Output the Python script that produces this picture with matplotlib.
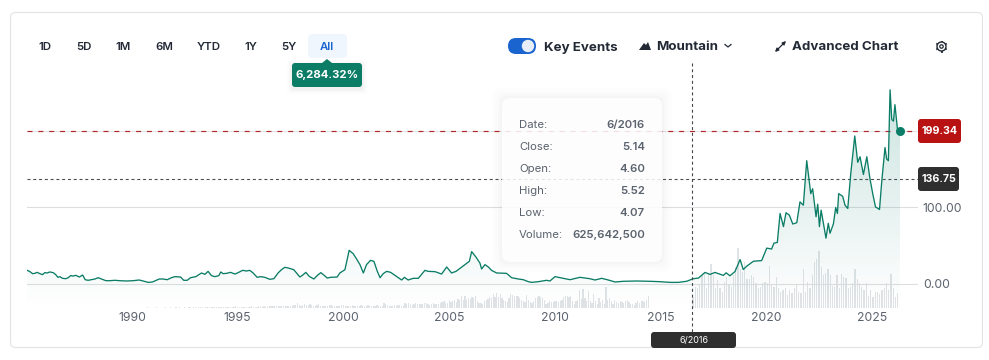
import matplotlib
matplotlib.use("Agg")
import matplotlib.pyplot as plt
import numpy as np
from matplotlib.patches import Circle, FancyBboxPatch, Polygon

plt.rcParams["font.family"] = ["Inter", "DejaVu Sans"]

# monthly-ish close
years = [
    1985.05, 1985.18, 1985.30, 1985.41, 1985.52, 1985.65, 1985.77, 1985.88, 1985.99, 1986.12,
    1986.28, 1986.40, 1986.50, 1986.59, 1986.72, 1986.87, 1986.99, 1987.10, 1987.22, 1987.35,
    1987.51, 1987.67, 1987.79, 1987.93, 1988.09, 1988.25, 1988.40, 1988.56, 1988.77, 1988.95,
    1989.19, 1989.43, 1989.74, 1990.06, 1990.34, 1990.53, 1990.77, 1990.97, 1991.29, 1991.48,
    1991.67, 1991.87, 1992.03, 1992.30, 1992.45, 1992.61, 1992.77, 1993.02, 1993.29, 1993.45,
    1993.60, 1993.76, 1993.92, 1994.11, 1994.20, 1994.31, 1994.47, 1994.66, 1994.87, 1995.02,
    1995.23, 1995.42, 1995.57, 1995.73, 1995.92, 1996.08, 1996.28, 1996.52, 1996.71, 1996.91,
    1997.07, 1997.23, 1997.39, 1997.65, 1997.78, 1997.94, 1998.10, 1998.22, 1998.38, 1998.60,
    1998.77, 1998.93, 1999.09, 1999.23, 1999.39, 1999.70, 1999.83, 2000.07, 2000.27, 2000.46,
    2000.62, 2000.78, 2000.94, 2001.09, 2001.28, 2001.44, 2001.60, 2001.73, 2001.88, 2002.04,
    2002.23, 2002.43, 2002.75, 2002.88, 2003.06, 2003.30, 2003.54, 2003.85, 2004.01, 2004.33,
    2004.64, 2004.88, 2005.11, 2005.32, 2005.74, 2005.95, 2006.06, 2006.26, 2006.45, 2006.53,
    2006.69, 2006.85, 2007.00, 2007.24, 2007.71, 2007.95, 2008.27, 2008.50, 2008.74, 2008.90,
    2009.21, 2009.60, 2009.76, 2010.00, 2010.39, 2010.71, 2011.18, 2011.65, 2011.89, 2012.21,
    2012.52, 2012.84, 2013.23, 2013.86, 2014.49, 2014.96, 2015.44, 2015.83, 2016.22, 2016.42,
    2016.54, 2016.78, 2017.09, 2017.33, 2017.56, 2017.96, 2018.09, 2018.27, 2018.51, 2018.75,
    2018.90, 2019.06, 2019.38, 2019.77, 2020.01, 2020.24, 2020.35, 2020.51, 2020.64, 2020.80,
    2020.92, 2021.08, 2021.24, 2021.43, 2021.58, 2021.74, 2021.90, 2022.09, 2022.18, 2022.34,
    2022.42, 2022.50, 2022.58, 2022.81, 2022.92, 2023.00, 2023.16, 2023.27, 2023.35, 2023.41,
    2023.60, 2023.71, 2023.84, 2023.98, 2024.17, 2024.31, 2024.42, 2024.58, 2024.74, 2024.89,
    2025.02, 2025.15, 2025.34, 2025.45, 2025.60, 2025.68, 2025.76, 2025.84, 2025.92, 2026.00,
    2026.07, 2026.19, 2026.31,
]
closes = [
    17.4, 15.7, 13.1, 13.5, 14.8, 13.1, 11.8, 14.4, 14.0, 15.3,
    14.4, 11.8, 8.3, 9.2, 7.0, 6.5, 7.8, 10.5, 10.0, 10.9,
    8.7, 11.3, 5.2, 4.4, 5.2, 6.1, 7.8, 6.1, 3.9, 3.9,
    4.4, 3.9, 3.5, 3.9, 4.8, 3.5, 1.7, 2.2, 6.1, 6.1,
    5.2, 7.8, 9.2, 8.7, 4.4, 4.4, 7.8, 9.2, 14.0, 12.2,
    16.1, 10.5, 9.2, 10.5, 15.3, 13.1, 13.5, 14.8, 12.6, 14.4,
    17.4, 16.6, 17.4, 14.0, 8.3, 9.2, 8.3, 5.7, 6.5, 14.0,
    18.3, 21.4, 20.5, 18.3, 14.0, 8.7, 11.8, 14.8, 9.6, 6.1,
    10.9, 14.4, 10.9, 7.4, 8.3, 8.7, 14.0, 18.3, 43.6, 39.2,
    32.3, 24.9, 14.0, 24.9, 30.5, 29.2, 16.1, 7.8, 13.1, 16.1,
    14.8, 10.9, 4.8, 8.3, 4.8, 7.0, 7.0, 17.4, 16.1, 15.7,
    12.6, 21.8, 14.0, 16.1, 24.9, 29.2, 41.9, 34.9, 27.0, 19.2,
    24.9, 21.8, 17.4, 14.0, 13.5, 7.8, 6.1, 5.2, 2.6, 1.7,
    2.6, 4.4, 3.5, 9.2, 7.0, 5.2, 8.3, 6.5, 4.8, 7.0,
    4.8, 2.2, 3.1, 3.5, 3.1, 2.6, 1.7, 1.7, 3.1, 5.14,
    6.5, 7.3, 14.7, 12.1, 14.7, 10.8, 14.2, 10.3, 15.9, 31.5,
    18.5, 22.8, 29.3, 30.2, 46.5, 45.3, 53.0, 53.9, 91.8, 74.6,
    92.7, 89.6, 78.0, 79.7, 106.9, 102.6, 160.8, 117.7, 124.1, 87.5,
    103.9, 74.6, 96.1, 59.5, 78.9, 65.9, 78.0, 99.6, 91.8, 117.7,
    114.2, 102.6, 98.3, 143.5, 193.1, 158.6, 165.9, 142.7, 165.9, 137.1,
    117.7, 100.4, 97.0, 134.9, 178.0, 162.9, 160.8, 253.4, 214.6, 212.5,
    234.0, 201.7, 199.34,
]

# volume in millions, one bar per month up to mid 2016
volume_old = [10, 8, 12, 10, 8, 10] * 1 + [8, 10, 12, 8, 10, 8, 12, 10] * 7 + [
    20, 25, 20, 30, 20, 25, 25, 20, 30, 25, 20, 25,
    25, 30, 20, 25, 30, 25, 20, 30, 25, 30, 25, 20,
    30, 25, 35, 30, 25, 30, 35, 25, 30, 35, 30, 25,
    30, 35, 30, 40, 30, 35, 30, 40, 35, 30, 40, 35,
    50, 60, 70, 50, 60, 80, 60, 70, 60, 50, 70, 60,
    70, 60, 80, 70, 60, 70, 90, 80, 60, 80, 70, 90,
    90, 100, 80, 110, 90, 80, 120, 100, 90, 130, 110, 90,
    100, 90, 140, 170, 240, 140, 120, 150, 190, 140, 170, 200,
    150, 130, 110, 170, 200, 120, 110, 130, 100, 120, 170, 160,
    120, 110, 100, 90, 130, 170, 150, 100, 90, 130, 120, 140,
    100, 80, 120, 100, 150, 90, 80, 120, 140, 90, 110, 100,
    90, 150, 130, 110, 100, 240, 200, 150, 90, 110, 130, 160,
    130, 170, 160, 130, 120, 250, 220, 240, 200, 180, 210, 260,
    230, 200, 210, 190, 240, 280, 220, 180, 200, 270, 230, 190,
    200, 270, 300, 340, 250, 240, 410, 300, 360, 420, 330, 450,
    410, 600, 420, 650,
    425, 510, 476, 561, 510, 646, 340, 255, 255, 221, 340, 425, 476, 561, 510, 714,
    561, 765, 595, 731, 510, 425, 340, 306, 510, 714, 680, 646, 629, 612, 510, 425,
    374, 306, 680, 425, 306, 255, 374, 510, 561, 612, 578, 510, 425, 204, 255, 340,
    306, 289, 340, 357, 306, 340, 408, 561, 646, 612, 561, 646, 340, 221, 340, 425,
    935, 476, 986, 510, 374, 884, 340, 272, 714, 340, 221, 510, 289, 425, 204, 1071,
    425, 510, 340, 204, 425, 306, 255, 340, 306, 255, 374, 425, 289, 221, 204, 170,
    238, 340, 255, 374, 340, 306, 425, 626,
]
volume_recent = [
    595, 1105, 1020, 1190, 1700, 1870, 1020, 1785, 2295, 1700, 1020, 1445, 1020, 850, 1360, 1615,
    1190, 1105, 1700, 2125, 3145, 2040, 1870, 2380, 1530, 1530, 1700, 1615, 1275, 1020, 1105, 1275,
    1360, 1275, 2210, 1190, 1105, 1615, 1020, 850, 935, 1020, 680, 935, 765, 1020, 1190,
    850, 765, 2040, 850, 1360, 1020, 1700, 2380, 2550, 2975, 2125, 1700, 1836, 2006, 1700, 1156,
    1105, 1700, 1020, 1785, 1615, 1564, 1020, 1105, 1326, 2006, 1530, 1275, 1105, 935, 1275, 646,
    935, 595, 816, 816, 714, 935, 1054, 1326, 935, 1785, 1054, 595, 765,
]

year_ticks = [1990, 1995, 2000, 2005, 2010, 2015, 2020, 2025]
price_ticks = [0, 100]
price_tick_labels = ["0.00", "100.00"]
last_close = 199.34
prev_close = 136.75
hover_year = 2016.42
range_buttons = ["1D", "5D", "1M", "6M", "YTD", "1Y", "5Y", "All"]
tooltip_rows = [
    ("Date:", "6/2016"),
    ("Close:", "5.14"),
    ("Open:", "4.60"),
    ("High:", "5.52"),
    ("Low:", "4.07"),
    ("Volume:", "625,642,500"),
]

W, H = 989, 360
GREEN = "#0b7d66"
INK = "#232a36"
GREY = "#5b636e"

fig = plt.figure(figsize=(W / 100, H / 100), dpi=100, facecolor="white")


def px_axes(left, top, right, bottom):
    return [left / W, 1 - bottom / H, (right - left) / W, (bottom - top) / H]


ax_vol = fig.add_axes(px_axes(27, 60, 918, 308), zorder=1)
ax = fig.add_axes(px_axes(27, 60, 918, 308), zorder=2)
ax.patch.set_visible(False)
ui = fig.add_axes([0, 0, 1, 1], zorder=3)
ui.set_xlim(0, W)
ui.set_ylim(H, 0)
ui.axis("off")

ax.set_xlim(1985.04, 2027.16)
ax.set_ylim(-31.8, 292.4)
ax_vol.set_xlim(1985.04, 2027.16)
ax_vol.set_ylim(0, 12900)
ax_vol.axis("off")

# volume
x_old = 1985.33 + np.arange(len(volume_old)) / 12
x_recent = np.linspace(2016.52, 2026.2, len(volume_recent))
ax_vol.bar(x_old, volume_old, width=0.06, color="#dfe3e5", linewidth=0)
ax_vol.bar(x_recent, volume_recent, width=0.06, color="#dfe3e5", linewidth=0)

# gradient under the line
grad = np.zeros((256, 1, 4))
grad[..., :3] = matplotlib.colors.to_rgb(GREEN)
grad[..., 3] = np.linspace(0.24, 0.0, 256)[:, None]
im = ax.imshow(grad, extent=(1985.04, 2027.16, -31.8, 292.4), aspect="auto", zorder=1, origin="upper")
poly = ax.fill_between(years, closes, -31.8, color="none")
im.set_clip_path(poly.get_paths()[0], transform=ax.transData)
ax.set_xlim(1985.04, 2027.16)
ax.set_ylim(-31.8, 292.4)

ax.plot(years, closes, color=GREEN, lw=0.95, zorder=3, solid_joinstyle="round")
ax.plot(years[-1], closes[-1], "o", color=GREEN, ms=6.5, zorder=4, mec="none")

ax.set_xticks(year_ticks)
ax.set_xticklabels([str(y) for y in year_ticks], fontsize=8.8, color=GREY)
ax.yaxis.tick_right()
ax.set_yticks(price_ticks)
ax.set_yticklabels(price_tick_labels, fontsize=8.8, color=GREY)
ax.tick_params(length=0, axis="x", pad=3)
ax.tick_params(length=0, axis="y", pad=3.5)
ax.grid(axis="y", color="#dcdee2", lw=0.8, zorder=2)
ax.set_axisbelow(True)
for spine in ax.spines.values():
    spine.set_visible(False)

# grey solid sits under the red dashes
ax.axhline(last_close, color="#e2e3e6", lw=0.8, zorder=2)
ax.axhline(last_close, color="#b3262a", lw=0.85, ls=(0, (4.2, 5)), zorder=2)
ax.axhline(prev_close, color="#4b4e52", lw=0.8, ls=(0, (2.7, 2.5)), zorder=2)
ui.plot([691.5, 691.5], [63, 333], color="#44474b", lw=0.8, ls=(0, (2.7, 2.5)))


def box(x0, y0, x1, y1, color, r=3, **kw):
    p = FancyBboxPatch((x0 + r, y0 + r), x1 - x0 - 2 * r, y1 - y0 - 2 * r,
                       boxstyle=f"round,pad={r},rounding_size={r}", fc=color, ec="none", **kw)
    ui.add_patch(p)
    return p


# card outline
card = box(10.5, 12.5, 982.5, 347.5, "none", r=5)
card.set_edgecolor("#e2e3e7")
card.set_linewidth(0.8)

# range buttons
box(308, 34, 347, 58, "#f0f6fd", r=4)
for label, cx in zip(range_buttons, [45, 84, 123, 164, 209, 251, 289, 327]):
    ui.text(cx, 46.5, label, ha="center", va="center", fontsize=8.2, fontweight="semibold",
            color="#1a64d0" if label == "All" else INK)

# percent pill
for grow, alpha in [(5, 0.012), (3, 0.018), (1.5, 0.025)]:
    box(292 - grow, 63 - grow + 2, 362 + grow, 87 + grow + 2, "#000000", r=4, alpha=alpha)
ui.add_patch(Polygon([[322, 63], [327, 59], [332, 63]], fc=GREEN, ec="none"))
box(292, 63, 362, 87, GREEN, r=3)
ui.text(327, 75.5, "6,284.32%", ha="center", va="center", fontsize=8.2, fontweight="bold", color="white")

# toolbar
box(508, 38, 536, 54, "#1a64d0", r=8)
ui.add_patch(Circle((528, 46), 6.2, fc="#e8eef8", ec="none"))
ui.text(544, 47.5, "Key Events", va="center", fontsize=9.6, fontweight="bold", color=INK)
ui.add_patch(Polygon([[639, 50], [644, 43], [646, 45], [648, 42], [651, 50]], fc=INK, ec="none"))
ui.text(656, 46.5, "Mountain", va="center", fontsize=9.6, fontweight="bold", color=INK)
ui.plot([725, 728, 731], [44.5, 47, 44.5], color=INK, lw=0.9)
ui.annotate("", xy=(786, 41), xytext=(775, 52), arrowprops=dict(arrowstyle="<|-|>", color=INK, lw=0.9, mutation_scale=5, shrinkA=0, shrinkB=0))
ui.text(792, 46.5, "Advanced Chart", va="center", fontsize=9.6, fontweight="bold", color=INK)

# gear icon
ui.add_patch(Circle((941.5, 46.5), 4.5, fc="white", ec=INK, lw=1.0))
ui.add_patch(Circle((941.5, 46.5), 1.7, fc="white", ec=INK, lw=0.9))
for a in np.deg2rad(np.arange(0, 360, 60) + 30):
    ui.plot([941.5 + 4.5 * np.cos(a), 941.5 + 6.0 * np.cos(a)],
            [46.5 + 4.5 * np.sin(a), 46.5 + 6.0 * np.sin(a)], color=INK, lw=1.3, solid_capstyle="butt")

# price tags
box(918, 119, 961, 143, "#b91212", r=3)
ui.text(940, 131.5, "199.34", ha="center", va="center", fontsize=7.7, fontweight="bold", color="white")
box(918, 167, 959, 191, "#2f2f2f", r=3)
ui.text(938.5, 179.5, "136.75", ha="center", va="center", fontsize=7.7, fontweight="bold", color="white")

# hover date tag
box(651, 332, 736, 348, "#2f2f2f", r=3)
ui.text(679, 340, "6/2016", va="center", fontsize=6.5, color="white")

# tooltip
for grow, alpha in [(10, 0.006), (7, 0.008), (4, 0.01), (2, 0.012)]:
    box(502 - grow, 98 - grow, 662 + grow, 262 + grow, "#000000", r=8, alpha=alpha)
box(502, 98, 662, 262, "white", r=8, alpha=0.86)
for (name, val), y in zip(tooltip_rows, [125, 147, 169, 191, 213, 235]):
    ui.text(519, y, name, va="center", fontsize=8.2, color=GREY)
    ui.text(645, y, val, va="center", ha="right", fontsize=8.2, fontweight="semibold", color=GREY)

fig.savefig("out.png", dpi=100)
